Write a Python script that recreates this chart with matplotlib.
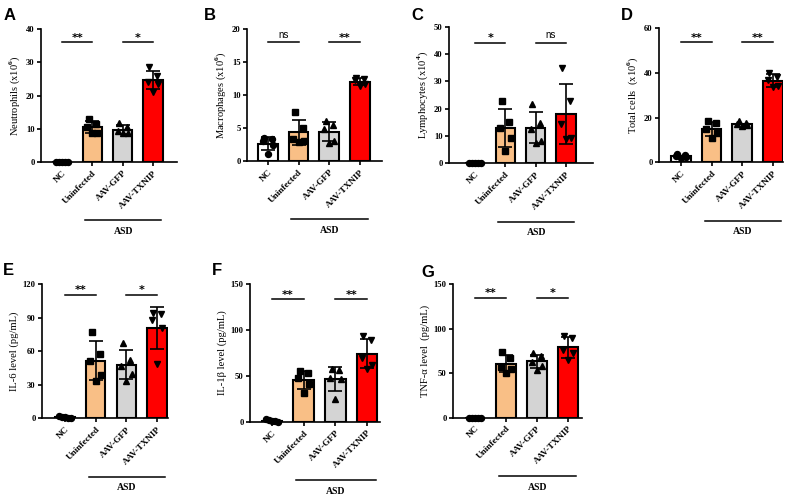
import numpy as np
import matplotlib
matplotlib.use('Agg')
import matplotlib.pyplot as plt
from matplotlib import transforms

plt.rcParams['font.family'] = 'Liberation Serif'
plt.rcParams['font.weight'] = 'bold'
plt.rcParams['mathtext.fontset'] = 'custom'
plt.rcParams['mathtext.rm'] = 'Liberation Serif:bold'
plt.rcParams['mathtext.bf'] = 'Liberation Serif:bold'

groups = ['NC', 'Uninfected', 'AAV-GFP', 'AAV-TXNIP']
colors = ['#FFFFFF', '#F9BF86', '#D4D4D4', '#FF0000']
markers = ['o', 's', '^', 'v']

# individual values per group (NC, Uninfected, AAV-GFP, AAV-TXNIP)
neutrophils = [[0, 0, 0, 0, 0], [13.0, 11.5, 10.5, 8.8, 8.6],
               [11.8, 10.5, 9.2, 8.8, 8.6], [28.5, 25.8, 24.2, 23.5, 21.0]]
macrophages = [[3.5, 3.3, 3.0, 2.4, 1.0], [7.4, 5.0, 3.4, 3.0, 2.9],
               [6.1, 5.5, 4.8, 3.0, 2.8], [12.6, 12.4, 12.2, 11.7, 11.3]]
lymphocytes = [[0, 0, 0, 0, 0], [22.9, 15.2, 12.8, 9.2, 4.6],
               [21.7, 14.9, 12.6, 8.3, 7.6], [35.0, 23.0, 14.4, 9.3, 9.0]]
total_cells = [[3.8, 3.4, 3.0, 2.6, 1.9], [18.5, 17.8, 15.0, 13.2, 11.0],
               [18.5, 17.8, 17.2, 16.7, 16.3], [40.2, 38.0, 37.0, 34.0, 33.5]]
il6 = [[2.5, 1.5, 1.0, 0.5, 0.2], [77.0, 57.5, 51.5, 38.7, 33.6],
       [67.0, 52.0, 47.0, 40.0, 33.0], [94.0, 93.0, 88.0, 81.0, 49.0]]
il1b = [[3.0, 2.0, 1.0, 0.5, 0.3], [55.0, 53.0, 48.0, 41.0, 31.0],
        [57.0, 56.0, 48.0, 47.0, 25.0], [94.0, 89.0, 69.0, 62.0, 58.0]]
tnfa = [[0, 0, 0, 0, 0], [74.0, 67.0, 57.0, 55.0, 50.0],
        [72.0, 69.0, 63.0, 58.0, 54.0], [92.0, 89.0, 76.0, 72.0, 65.0]]

panels = [
    # letter, data, ylabel, ymax, yticks, sig, axes rect, xlim, label pos, sig line height
    ('A', neutrophils, 'Neutrophils (x10$^{6}$)', 40, [0, 10, 20, 30, 40], ['**', '*'],
     [0.0514, 0.6766, 0.1704, 0.2655], (-0.69, 3.79), (0.004, 0.985), 0.90),
    ('B', macrophages, 'Macrophages (x10$^{6}$)', 20, [0, 5, 10, 15, 20], ['ns', '**'],
     [0.3095, 0.6786, 0.1692, 0.2635], (-0.68, 3.72), (0.256, 0.985), 0.90),
    ('C', lymphocytes, 'Lymphocytes (x10$^{4}$)', 50, [0, 10, 20, 30, 40, 50], ['*', 'ns'],
     [0.5627, 0.6740, 0.1805, 0.2725], (-0.86, 3.89), (0.516, 0.985), 0.885),
    ('D', total_cells, 'Total cells  (x10$^{6}$)', 60, [0, 20, 40, 60], ['**', '**'],
     [0.8258, 0.6760, 0.1554, 0.2675], (-0.72, 3.33), (0.778, 0.985), 0.895),
    ('E', il6, 'IL-6 level (pg/mL)', 120, [0, 30, 60, 90, 120], ['**', '*'],
     [0.0526, 0.1650, 0.1580, 0.2680], (-0.75, 3.36), (0.004, 0.475), 0.92),
    ('F', il1b, 'IL-1\u03b2 level (pg/mL)', 150, [0, 50, 100, 150], ['**', '**'],
     [0.3133, 0.1580, 0.1630, 0.2750], (-0.69, 3.41), (0.266, 0.475), 0.89),
    ('G', tnfa, 'TNF-\u03b1 level  (pg/mL)', 150, [0, 50, 100, 150], ['**', '*'],
     [0.5677, 0.1663, 0.1617, 0.2670], (-0.71, 3.45), (0.528, 0.472), 0.897),
]

jitter = [-0.12, 0.13, -0.17, 0.17, 0.0]
nc_row = [-0.2, -0.1, 0.0, 0.1, 0.2]

fig = plt.figure(figsize=(7.98, 5.01), dpi=100)

for letter, data, ylabel, ymax, yticks, sig, rect, xlim, lpos, sig_y in panels:
    ax = fig.add_axes(rect)
    x = np.arange(len(groups))
    means = [np.mean(d) for d in data]
    sds = [np.std(d, ddof=1) for d in data]
    ax.bar(x, means, width=0.64, color=colors, edgecolor='black', linewidth=1.5, zorder=2)
    for i, d in enumerate(data):
        offs = nc_row if max(d) < 0.05 * ymax else jitter
        ax.plot(i + np.array(offs), d, linestyle='none', marker=markers[i],
                color='black', markersize=4.3, zorder=3, clip_on=False)
        if sds[i] > 0.02 * ymax:
            ax.errorbar(i, means[i], yerr=sds[i], color='black', capsize=5,
                        elinewidth=1.2, capthick=1.2, zorder=4)

    ax.set_xlim(*xlim)
    ax.set_ylim(0, ymax)
    ax.set_yticks(yticks)
    ax.set_xticks(x)
    ax.set_xticklabels(groups, rotation=45, ha='right', rotation_mode='anchor', fontsize=6.7)
    ax.tick_params(axis='y', labelsize=6.2, length=3, width=1.2, pad=1.5)
    ax.tick_params(axis='x', length=3, width=1.2, pad=2)
    ax.spines['top'].set_visible(False)
    ax.spines['right'].set_visible(False)
    for s in ['left', 'bottom']:
        ax.spines[s].set_linewidth(1.2)
    ax.set_ylabel(ylabel, fontsize=7.6, labelpad=3)

    # significance bars
    trans = transforms.blended_transform_factory(ax.transData, ax.transAxes)
    for (a, b), s in zip([(0, 1), (2, 3)], sig):
        ax.plot([a, b], [sig_y, sig_y], color='black', linewidth=1.1, transform=trans, clip_on=False)
        if s == 'ns':
            ax.text((a + b) / 2, sig_y + 0.02, s, transform=trans, ha='center', va='bottom',
                    fontsize=7, family='Liberation Sans', fontweight='normal')
        else:
            ax.text((a + b) / 2, sig_y - 0.005, s, transform=trans, ha='center', va='bottom',
                    fontsize=8, family='DejaVu Sans')

    # ASD group line
    line_tr = transforms.offset_copy(trans, fig=fig, y=-42, units='points')
    ax.plot([0.77, 3.27], [0, 0], color='black', linewidth=1.1, transform=line_tr, clip_on=False)
    text_tr = transforms.offset_copy(trans, fig=fig, y=-50, units='points')
    ax.text(2.02, 0, 'ASD', transform=text_tr, ha='center', va='center', fontsize=7)

    fig.text(lpos[0], lpos[1], letter, ha='left', va='top', fontsize=12,
             family='Liberation Sans', fontweight='bold')

fig.savefig('out.png', dpi=100)
